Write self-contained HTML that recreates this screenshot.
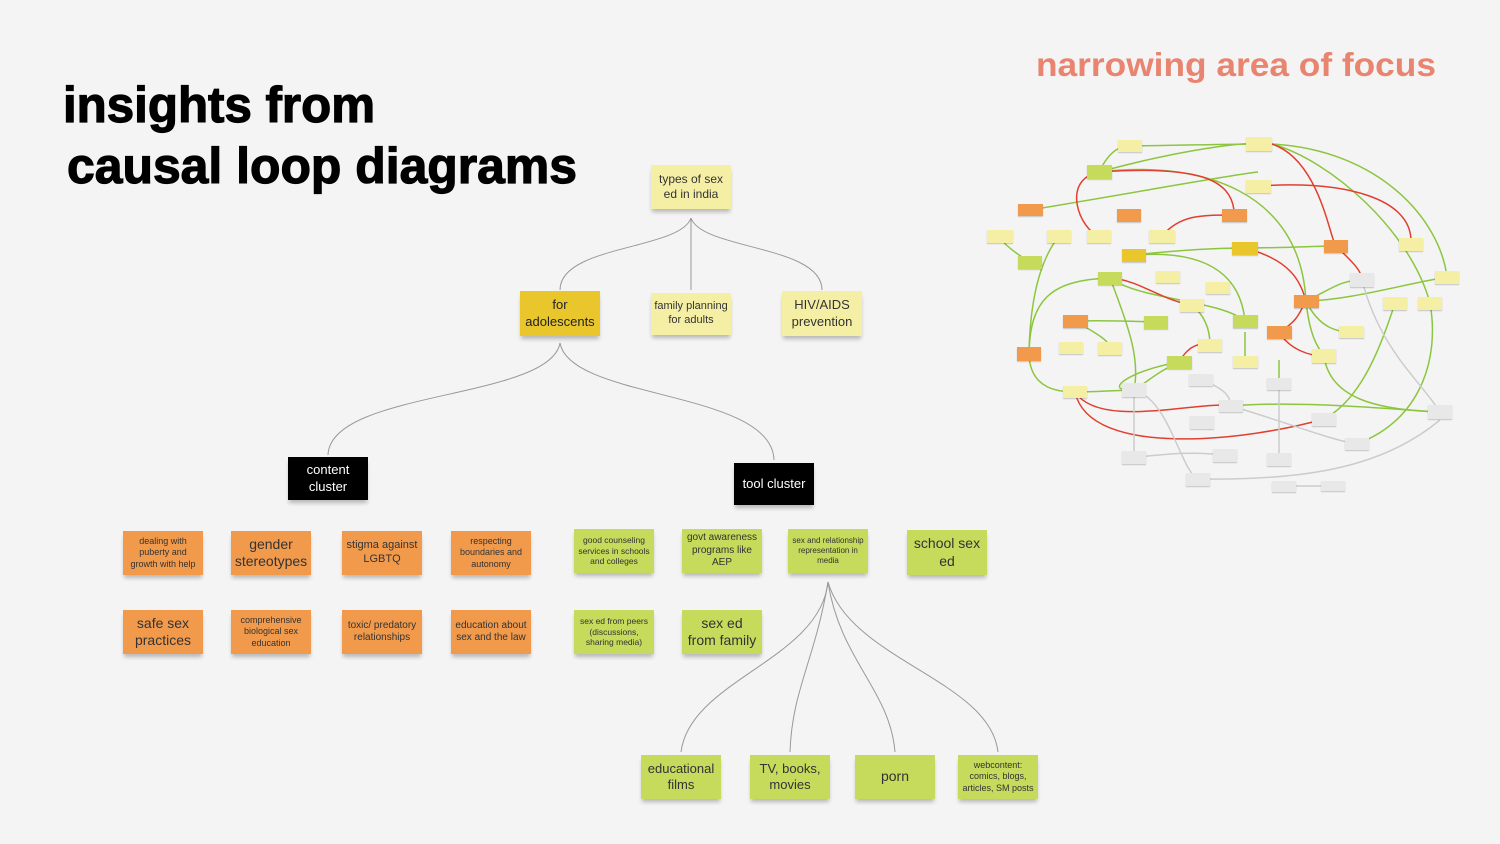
<!DOCTYPE html>
<html><head><meta charset="utf-8"><style>
body{margin:0;background:#f4f4f4;}
#c{position:relative;width:1500px;height:844px;overflow:hidden;background:#f4f4f4;font-family:"Liberation Sans",sans-serif;}
.n{position:absolute;display:flex;align-items:center;justify-content:center;text-align:center;color:#333;box-shadow:0 4px 4px -1px rgba(0,0,0,.25);line-height:1.25;}
.o{background:#f19a4c;}
.g{background:#c6da5c;}
.p{background:#f5efa6;}
.y{background:#e9c72c;}
.k{background:#000;color:#fff;}
.s{font-size:9px}.m{font-size:11px}.l{font-size:14px}
svg{position:absolute;left:0;top:0;}
.d{position:absolute;box-shadow:0 1px 1px rgba(0,0,0,.2);}
</style></head><body><div id="c">
<svg width="1500" height="844">
<text x="63" y="122" font-family="Liberation Sans" font-weight="bold" font-size="50" stroke="#000" stroke-width="1.2" textLength="312" lengthAdjust="spacingAndGlyphs">insights from</text>
<text x="67" y="183" font-family="Liberation Sans" font-weight="bold" font-size="50" stroke="#000" stroke-width="1.2" textLength="510" lengthAdjust="spacingAndGlyphs">causal loop diagrams</text>
<text x="1036" y="76" font-family="Liberation Sans" font-weight="bold" font-size="33" fill="#e8846f" textLength="400" lengthAdjust="spacingAndGlyphs">narrowing area of focus</text>
<g fill="none" stroke="#999" stroke-width="1">
<path d="M691 218 V290"/>
<path d="M691 218 C680 250 560 245 560 290"/>
<path d="M691 218 C702 250 822 245 822 290"/>
<path d="M560 343 C550 400 330 390 328 455"/>
<path d="M560 343 C570 400 772 390 774 460"/>
<path d="M828 582 C820 660 690 680 681 752"/>
<path d="M828 582 C815 660 792 690 790 752"/>
<path d="M828 582 C840 660 890 690 895 752"/>
<path d="M828 582 C850 660 990 680 998 752"/>
</g>
<g fill="none" stroke-width="1.5">
<g stroke="#8cc63f">
<path d="M1099 172 C1110 150 1120 146 1130 146"/><path d="M1130 146 C1200 145 1230 144 1272 144"/>
<path d="M1099 172 C1180 150 1250 140 1272 144"/><path d="M1030 262 C1010 250 1000 240 1000 236"/>
<path d="M1030 210 C1150 190 1230 175 1258 172"/><path d="M1059 236 C1040 260 1030 300 1029 354"/>
<path d="M1272 144 C1380 150 1440 220 1447 277"/><path d="M1272 144 C1330 160 1410 230 1430 303"/>
<path d="M1099 172 C1200 160 1300 190 1306 301"/><path d="M1134 255 C1180 250 1220 248 1245 248"/>
<path d="M1245 248 C1280 248 1320 246 1336 246"/><path d="M1134 255 C1200 250 1240 270 1245 321"/>
<path d="M1110 278 C1050 280 1030 300 1029 354"/><path d="M1110 278 C1140 300 1220 300 1245 321"/>
<path d="M1156 322 C1100 320 1080 321 1075 321"/><path d="M1075 321 C1090 330 1110 340 1110 348"/>
<path d="M1180 362 C1130 370 1100 392 1134 390"/><path d="M1029 354 C1030 390 1060 392 1075 392"/>
<path d="M1075 392 C1100 392 1120 390 1134 390"/><path d="M1306 301 C1330 290 1340 280 1362 280"/>
<path d="M1306 301 C1350 300 1400 285 1447 277"/><path d="M1306 301 C1320 330 1340 332 1351 332"/>
<path d="M1306 301 C1310 340 1320 350 1324 356"/><path d="M1245 362 V332"/>
<path d="M1231 406 C1300 400 1400 410 1440 412"/><path d="M1324 356 C1330 400 1380 410 1440 412"/>
<path d="M1395 303 C1380 350 1360 400 1324 419"/><path d="M1430 303 C1440 360 1420 420 1357 444"/>
<path d="M1110 278 C1130 330 1140 360 1134 390"/><path d="M1192 305 C1210 320 1210 340 1210 345"/>
<path d="M1279 384 V360"/><path d="M1180 362 C1160 370 1150 380 1134 390"/>
</g>
<g stroke="#e0402f">
<path d="M1099 172 C1200 165 1230 180 1234 210"/><path d="M1272 144 C1320 160 1330 240 1336 246"/>
<path d="M1258 186 C1350 180 1410 200 1411 240"/><path d="M1075 392 C1090 460 1250 440 1324 419"/>
<path d="M1075 392 C1100 430 1200 400 1231 406"/><path d="M1245 248 C1290 260 1300 280 1306 301"/>
<path d="M1279 332 C1300 320 1300 310 1306 301"/><path d="M1336 246 C1350 260 1362 270 1362 280"/>
<path d="M1099 236 C1080 230 1060 180 1099 172"/><path d="M1210 345 C1190 340 1180 360 1180 362"/>
<path d="M1162 236 C1180 215 1200 215 1234 215"/><path d="M1192 305 C1160 300 1140 280 1110 278"/>
<path d="M1279 332 C1290 350 1310 356 1324 356"/>
</g>
<g stroke="#ccc">
<path d="M1134 390 V457"/><path d="M1134 390 C1170 400 1180 470 1198 479"/>
<path d="M1231 406 C1280 420 1330 440 1357 444"/><path d="M1440 412 C1420 380 1380 350 1362 280"/>
<path d="M1225 455 C1180 450 1150 457 1134 457"/><path d="M1279 384 V459"/>
<path d="M1198 479 C1300 480 1380 470 1440 420"/><path d="M1284 486 H1333"/>
<path d="M1201 380 C1230 390 1230 400 1231 406"/>
</g>
</g>
</svg>

<div class="n p m" style="left:651px;top:165px;width:80px;height:44px;font-size:12px">types of sex<br>ed in india</div>
<div class="n y l" style="left:520px;top:291px;width:80px;height:45px;font-size:13px;color:#222">for<br>adolescents</div>
<div class="n p m" style="left:651px;top:293px;width:80px;height:42px">family planning<br>for adults</div>
<div class="n p l" style="left:782px;top:291px;width:80px;height:45px;font-size:13px">HIV/AIDS<br>prevention</div>
<div class="n k l" style="left:288px;top:457px;width:80px;height:43px;font-size:13px">content<br>cluster</div>
<div class="n k l" style="left:734px;top:463px;width:80px;height:42px;font-size:13px">tool cluster</div>

<div class="n o s" style="left:123px;top:531px;width:80px;height:44px">dealing with<br>puberty and<br>growth with help</div>
<div class="n o l" style="left:231px;top:531px;width:80px;height:44px">gender<br>stereotypes</div>
<div class="n o m" style="left:342px;top:531px;width:80px;height:44px">stigma against<br>LGBTQ</div>
<div class="n o s" style="left:451px;top:531px;width:80px;height:44px">respecting<br>boundaries and<br>autonomy</div>
<div class="n o l" style="left:123px;top:610px;width:80px;height:44px">safe sex<br>practices</div>
<div class="n o s" style="left:231px;top:610px;width:80px;height:44px">comprehensive<br>biological sex<br>education</div>
<div class="n o s" style="left:342px;top:610px;width:80px;height:44px;font-size:10px">toxic/ predatory<br>relationships</div>
<div class="n o s" style="left:451px;top:610px;width:80px;height:44px;font-size:10px">education about<br>sex and the law</div>

<div class="n g s" style="left:574px;top:529px;width:80px;height:44px;font-size:8.5px">good counseling<br>services in schools<br>and colleges</div>
<div class="n g s" style="left:682px;top:529px;width:80px;height:44px;font-size:10px">govt awareness<br>programs like<br>AEP</div>
<div class="n g s" style="left:788px;top:529px;width:80px;height:44px;font-size:8px">sex and relationship<br>representation in<br>media</div>
<div class="n g l" style="left:907px;top:530px;width:80px;height:45px">school sex<br>ed</div>
<div class="n g s" style="left:574px;top:610px;width:80px;height:44px;font-size:8.5px">sex ed from peers<br>(discussions,<br>sharing media)</div>
<div class="n g l" style="left:682px;top:610px;width:80px;height:44px">sex ed<br>from family</div>

<div class="n g l" style="left:641px;top:755px;width:80px;height:44px;font-size:13px">educational<br>films</div>
<div class="n g l" style="left:750px;top:755px;width:80px;height:44px;font-size:13px">TV, books,<br>movies</div>
<div class="n g l" style="left:855px;top:755px;width:80px;height:44px">porn</div>
<div class="n g s" style="left:958px;top:755px;width:80px;height:44px">webcontent:<br>comics, blogs,<br>articles, SM posts</div>

<div class="d p" style="left:1118px;top:140px;width:24px;height:12px"></div>
<div class="d p" style="left:1246px;top:137px;width:26px;height:14px"></div>
<div class="d g" style="left:1087px;top:165px;width:25px;height:14px"></div>
<div class="d p" style="left:1246px;top:180px;width:25px;height:13px"></div>
<div class="d o" style="left:1018px;top:204px;width:25px;height:12px"></div>
<div class="d p" style="left:987px;top:230px;width:26px;height:13px"></div>
<div class="d p" style="left:1047px;top:230px;width:24px;height:13px"></div>
<div class="d o" style="left:1117px;top:209px;width:24px;height:13px"></div>
<div class="d o" style="left:1222px;top:209px;width:25px;height:13px"></div>
<div class="d p" style="left:1087px;top:230px;width:24px;height:13px"></div>
<div class="d p" style="left:1149px;top:230px;width:26px;height:13px"></div>
<div class="d y" style="left:1122px;top:249px;width:24px;height:13px"></div>
<div class="d y" style="left:1232px;top:242px;width:26px;height:13px"></div>
<div class="d o" style="left:1324px;top:240px;width:24px;height:13px"></div>
<div class="d p" style="left:1399px;top:238px;width:24px;height:13px"></div>
<div class="d g" style="left:1018px;top:256px;width:24px;height:13px"></div>
<div class="d g" style="left:1098px;top:272px;width:24px;height:13px"></div>
<div class="d p" style="left:1156px;top:271px;width:24px;height:12px"></div>
<div class="d p" style="left:1206px;top:282px;width:24px;height:12px"></div>
<div class="d p" style="left:1180px;top:299px;width:24px;height:13px"></div>
<div class="d" style="left:1350px;top:273px;width:24px;height:14px;background:#e8e8e8"></div>
<div class="d p" style="left:1435px;top:271px;width:24px;height:13px"></div>
<div class="d o" style="left:1294px;top:295px;width:25px;height:13px"></div>
<div class="d p" style="left:1383px;top:297px;width:24px;height:13px"></div>
<div class="d p" style="left:1418px;top:297px;width:24px;height:13px"></div>
<div class="d o" style="left:1063px;top:315px;width:25px;height:13px"></div>
<div class="d g" style="left:1144px;top:316px;width:24px;height:13px"></div>
<div class="d g" style="left:1233px;top:315px;width:25px;height:13px"></div>
<div class="d o" style="left:1267px;top:326px;width:25px;height:13px"></div>
<div class="d p" style="left:1339px;top:326px;width:25px;height:12px"></div>
<div class="d o" style="left:1017px;top:347px;width:24px;height:14px"></div>
<div class="d p" style="left:1059px;top:342px;width:24px;height:12px"></div>
<div class="d p" style="left:1098px;top:342px;width:24px;height:13px"></div>
<div class="d p" style="left:1198px;top:339px;width:24px;height:13px"></div>
<div class="d g" style="left:1167px;top:356px;width:25px;height:13px"></div>
<div class="d p" style="left:1233px;top:356px;width:25px;height:12px"></div>
<div class="d p" style="left:1312px;top:349px;width:24px;height:14px"></div>
<div class="d p" style="left:1063px;top:386px;width:24px;height:12px"></div>
<div class="d" style="left:1122px;top:383px;width:24px;height:14px;background:#e8e8e8"></div>
<div class="d" style="left:1189px;top:374px;width:24px;height:12px;background:#e8e8e8"></div>
<div class="d" style="left:1267px;top:378px;width:24px;height:12px;background:#e8e8e8"></div>
<div class="d" style="left:1219px;top:400px;width:24px;height:12px;background:#e8e8e8"></div>
<div class="d" style="left:1190px;top:416px;width:24px;height:13px;background:#e8e8e8"></div>
<div class="d" style="left:1312px;top:413px;width:24px;height:13px;background:#e8e8e8"></div>
<div class="d" style="left:1428px;top:405px;width:24px;height:14px;background:#e8e8e8"></div>
<div class="d" style="left:1345px;top:438px;width:24px;height:12px;background:#e8e8e8"></div>
<div class="d" style="left:1122px;top:451px;width:24px;height:13px;background:#e8e8e8"></div>
<div class="d" style="left:1213px;top:449px;width:24px;height:13px;background:#e8e8e8"></div>
<div class="d" style="left:1267px;top:453px;width:24px;height:13px;background:#e8e8e8"></div>
<div class="d" style="left:1186px;top:473px;width:24px;height:13px;background:#e8e8e8"></div>
<div class="d" style="left:1272px;top:481px;width:24px;height:11px;background:#e8e8e8"></div>
<div class="d" style="left:1321px;top:481px;width:24px;height:10px;background:#e8e8e8"></div>
</div></body></html>
